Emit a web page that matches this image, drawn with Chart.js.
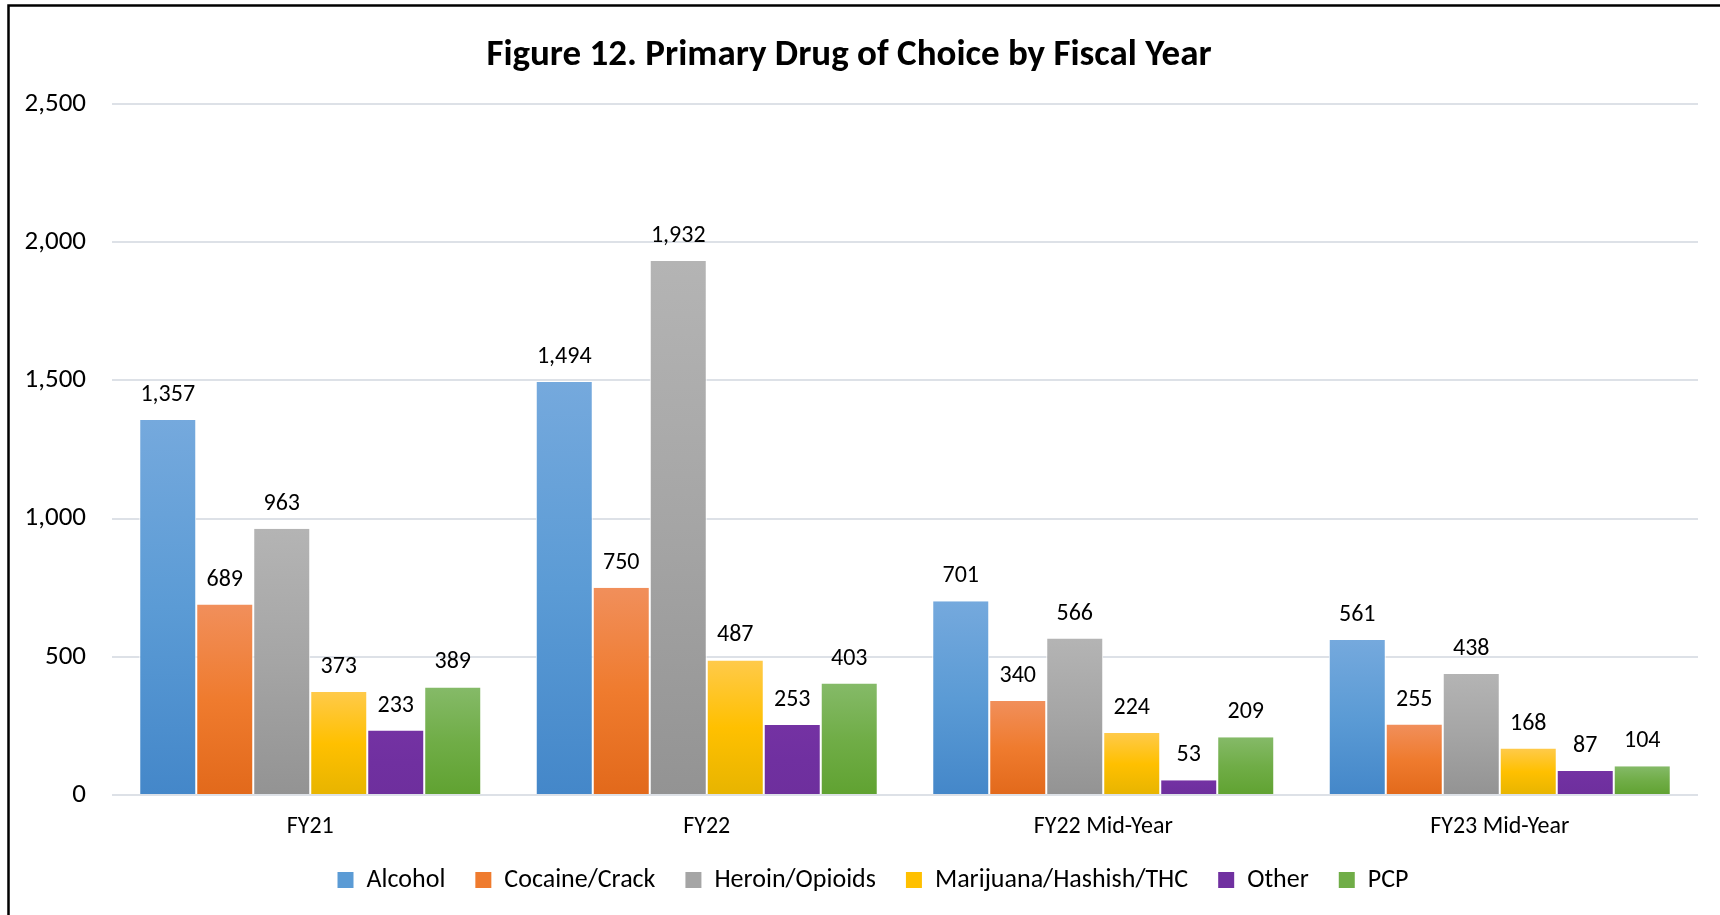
<!DOCTYPE html>
<html>
<head>
<meta charset="utf-8">
<script src="https://cdn.jsdelivr.net/npm/chart.js@4.4.1/dist/chart.umd.min.js"></script>
<style>
  html, body { margin: 0; padding: 0; background: #ffffff; }
  #wrap { position: relative; width: 1720px; height: 915px; }
  canvas { display: block; }
</style>
</head>
<body>
<div id="wrap"><canvas id="c" width="1720" height="915"></canvas></div>
<script>
const categories = ["FY21", "FY22", "FY22 Mid-Year", "FY23 Mid-Year"];
const seriesNames = ["Alcohol", "Cocaine/Crack", "Heroin/Opioids", "Marijuana/Hashish/THC", "Other", "PCP"];
const alcohol   = [1357, 1494, 701, 561];
const cocaine   = [689, 750, 340, 255];
const heroin    = [963, 1932, 566, 438];
const marijuana = [373, 487, 224, 168];
const other     = [233, 253, 53, 87];
const pcp       = [389, 403, 209, 104];
const yTicks    = [0, 500, 1000, 1500, 2000, 2500];
const titleText = "Figure 12. Primary Drug of Choice by Fiscal Year";

const seriesValues = [alcohol, cocaine, heroin, marijuana, other, pcp];
// [top, middle, bottom] gradient stops
const seriesColors = [
  ["#75a9dd", "#5b9bd5", "#4487c9"],
  ["#f18f5b", "#ef7b2e", "#e2691b"],
  ["#b4b4b4", "#a5a5a5", "#939393"],
  ["#ffca4a", "#ffc000", "#e7b400"],
  ["#7432a3", "#7030a0", "#6e2f9d"],
  ["#85ba68", "#70ad47", "#60a231"]
];

const FONT = "Carlito, Lato, 'Open Sans', sans-serif";

function barFill(si) {
  return function(ctx) {
    const cols = seriesColors[si];
    if (ctx.type !== 'data') return cols[1];
    const chart = ctx.chart;
    const ys = chart.scales.y;
    if (!ys || !chart.chartArea) return cols[1];
    const top = ys.getPixelForValue(ctx.raw);
    const bottom = ys.getPixelForValue(0);
    if (!isFinite(top) || !isFinite(bottom) || bottom - top < 1) return cols[1];
    const g = chart.ctx.createLinearGradient(0, top, 0, bottom);
    g.addColorStop(0, cols[0]);
    g.addColorStop(0.5, cols[1]);
    g.addColorStop(1, cols[2]);
    return g;
  };
}

const datasets = seriesNames.map((name, i) => ({
  label: name,
  data: seriesValues[i],
  backgroundColor: barFill(i),
  borderColor: '#ffffff',
  borderWidth: { left: 1, right: 1, top: 0, bottom: 0 },
  borderSkipped: false,
  categoryPercentage: 0.8625,
  barPercentage: 1.0
}));

const frameAndLabels = {
  id: 'frameAndLabels',
  beforeDraw(chart) {
    const c = chart.ctx;
    c.save();
    c.fillStyle = '#ffffff';
    c.fillRect(0, 0, chart.width, chart.height);
    c.strokeStyle = '#000000';
    c.lineWidth = 2.5;
    c.beginPath();
    c.moveTo(8.5, chart.height);
    c.lineTo(8.5, 5.5);
    c.lineTo(chart.width, 5.5);
    c.stroke();
    c.restore();
  },
  afterDatasetsDraw(chart) {
    const c = chart.ctx;
    c.save();
    c.font = "24px " + FONT;
    c.fillStyle = '#000000';
    c.textAlign = 'center';
    c.textBaseline = 'middle';
    chart.data.datasets.forEach((ds, di) => {
      const meta = chart.getDatasetMeta(di);
      meta.data.forEach((el, i) => {
        const v = ds.data[i];
        c.fillText(v.toLocaleString('en-US'), el.x, el.y - 25);
      });
    });
    c.restore();
  }
};

const legendShift = {
  id: 'legendShift',
  afterLayout(chart) {
    const lg = chart.legend;
    if (lg) { lg.left += 24; lg.right += 24; }
  }
};

new Chart(document.getElementById('c'), {
  type: 'bar',
  data: { labels: categories, datasets: datasets },
  plugins: [frameAndLabels, legendShift],
  options: {
    responsive: false,
    animation: false,
    devicePixelRatio: 1,
    layout: { padding: { top: 0, right: 22, bottom: 12, left: 0 } },
    plugins: {
      title: {
        display: true,
        text: titleText,
        color: '#000000',
        font: { family: FONT, size: 37, weight: 'bold', lineHeight: 1.2 },
        padding: { top: 34, bottom: 25.6 }
      },
      legend: {
        position: 'bottom',
        labels: {
          color: '#000000',
          font: { family: FONT, size: 26, lineHeight: 1.2 },
          boxWidth: 16,
          boxHeight: 16,
          padding: 30,
          generateLabels(chart) {
            return chart.data.datasets.map((ds, i) => ({
              text: ds.label,
              fillStyle: seriesColors[i][1],
              strokeStyle: 'rgba(0,0,0,0)',
              lineWidth: 0,
              hidden: !chart.isDatasetVisible(i),
              datasetIndex: i
            }));
          }
        }
      },
      tooltip: { enabled: false }
    },
    scales: {
      x: {
        grid: { display: false },
        border: { display: false },
        ticks: { color: '#000000', font: { family: FONT, size: 24 }, padding: 10 },
        afterFit(scale) { scale.height = 42; }
      },
      y: {
        min: 0,
        max: 2500,
        afterBuildTicks(scale) { scale.ticks = yTicks.map(v => ({ value: v })); },
        grid: { color: '#dde1e7', lineWidth: 2, drawTicks: false },
        border: { display: false },
        ticks: {
          color: '#000000',
          font: { family: FONT, size: 27 },
          padding: 26,
          callback: (v) => Number(v).toLocaleString('en-US')
        },
        afterFit(scale) { scale.width = 112; }
      }
    }
  }
});
</script>
</body>
</html>
